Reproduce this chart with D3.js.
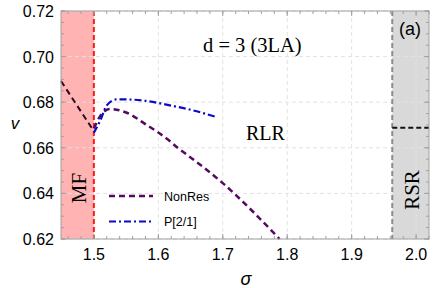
<!DOCTYPE html>
<html>
<head>
<meta charset="utf-8">
<script src="https://cdn.jsdelivr.net/npm/d3@7"></script>
<style>
  body { margin: 0; background: #fff; }
  svg { display: block; }
</style>
</head>
<body>
<div class="vis"></div>
<script>
// data
const xTicks = [1.5, 1.6, 1.7, 1.8, 1.9, 2.0];
const yTicks = [0.62, 0.64, 0.66, 0.68, 0.70, 0.72];
const mfEdge = 1.5;
const rsrEdge = 1.963;

const mfSigma = [1.449, 1.4965];
const mfV = [0.6893, 0.6688];

const rsrSigma = [1.963, 2.02];
const rsrV = [0.6688, 0.6688];

const nonResSigma = [1.5, 1.51, 1.525, 1.55, 1.582, 1.615, 1.63, 1.65, 1.7, 1.75, 1.788];
const nonResV = [0.6685, 0.674, 0.677, 0.6755, 0.670, 0.6636, 0.660, 0.6558, 0.6445, 0.6311, 0.62];

const padeSigma = [1.5, 1.51, 1.52, 1.535, 1.55, 1.58, 1.62, 1.65, 1.689];
const padeV = [0.6666, 0.672, 0.6786, 0.6812, 0.6812, 0.6806, 0.6785, 0.6767, 0.6736];

const legendNames = ['NonRes', 'P[2/1]'];

const margin = {top: 11, right: 13, bottom: 49, left: 61};
const W = 442, H = 288;
const width = W - margin.left - margin.right;
const height = H - margin.top - margin.bottom;

const svg = d3.select('.vis').append('svg')
    .attr('width', W)
    .attr('height', H);
const g = svg.append('g')
    .attr('transform', 'translate(' + margin.left + ',' + margin.top + ')');

const x = d3.scaleLinear().domain([1.449, 2.02]).range([0, width]);
const y = d3.scaleLinear().domain([0.62, 0.72]).range([height, 0]);

const sans = 'Liberation Sans, Arial, sans-serif';
const serif = 'Liberation Serif, Times New Roman, serif';

// shaded regions
g.append('rect')
    .attr('x', 0).attr('y', 0)
    .attr('width', x(mfEdge)).attr('height', height)
    .attr('fill', '#ffb3b3');
g.append('rect')
    .attr('x', x(rsrEdge)).attr('y', 0)
    .attr('width', width - x(rsrEdge)).attr('height', height)
    .attr('fill', '#d9d9d9');

// grid
g.selectAll('.gx').data(xTicks).enter().append('line')
    .attr('x1', d => x(d)).attr('x2', d => x(d))
    .attr('y1', 0).attr('y2', height)
    .attr('stroke', '#e2e2e2').attr('stroke-dasharray', '4,3');
g.selectAll('.gy').data(yTicks).enter().append('line')
    .attr('x1', 0).attr('x2', width)
    .attr('y1', d => y(d)).attr('y2', d => y(d))
    .attr('stroke', '#e2e2e2').attr('stroke-dasharray', '4,3');

// boundary lines
g.append('line')
    .attr('x1', x(mfEdge)).attr('x2', x(mfEdge))
    .attr('y1', 0).attr('y2', height)
    .attr('stroke', '#ff1a1a').attr('stroke-width', 2)
    .attr('stroke-dasharray', '5,3');
g.append('line')
    .attr('x1', x(rsrEdge)).attr('x2', x(rsrEdge))
    .attr('y1', 0).attr('y2', height)
    .attr('stroke', '#8c8c8c').attr('stroke-width', 2)
    .attr('stroke-dasharray', '5,3');

// curves
const line = d3.line().x(d => x(d[0])).y(d => y(d[1]));
const smooth = d3.line().x(d => x(d[0])).y(d => y(d[1])).curve(d3.curveMonotoneX);
const zip = (a, b) => a.map((v, i) => [v, b[i]]);

g.append('path').datum(zip(mfSigma, mfV))
    .attr('d', line).attr('fill', 'none')
    .attr('stroke', '#2a0a1e').attr('stroke-width', 2)
    .attr('stroke-dasharray', '6,4');
g.append('path').datum(zip(rsrSigma, rsrV))
    .attr('d', line).attr('fill', 'none')
    .attr('stroke', '#111').attr('stroke-width', 2)
    .attr('stroke-dasharray', '5,3');
g.append('path').datum(zip(nonResSigma, nonResV))
    .attr('d', smooth).attr('fill', 'none')
    .attr('stroke', '#550a5f').attr('stroke-width', 2.5)
    .attr('stroke-dasharray', '6,4');
g.append('path').datum(zip(padeSigma, padeV))
    .attr('d', smooth).attr('fill', 'none')
    .attr('stroke', '#0a0ac8').attr('stroke-width', 2.2)
    .attr('stroke-dasharray', '7,3,2,3');

// frame
g.append('rect')
    .attr('width', width).attr('height', height)
    .attr('fill', 'none').attr('stroke', '#a0a0a0');

// ticks (inward, on all sides)
const xMinor = d3.range(1.46, 2.021, 0.02);
const yMinor = d3.range(0.62, 0.7201, 0.005);
const tickCol = '#a0a0a0';
[0, height].forEach(yy => {
  const dir = yy === 0 ? 1 : -1;
  g.selectAll(null).data(xMinor).enter().append('line')
      .attr('x1', d => x(d)).attr('x2', d => x(d))
      .attr('y1', yy).attr('y2', yy + dir * 3)
      .attr('stroke', tickCol);
  g.selectAll(null).data(xTicks).enter().append('line')
      .attr('x1', d => x(d)).attr('x2', d => x(d))
      .attr('y1', yy).attr('y2', yy + dir * 5)
      .attr('stroke', tickCol);
});
[0, width].forEach(xx => {
  const dir = xx === 0 ? 1 : -1;
  g.selectAll(null).data(yMinor).enter().append('line')
      .attr('x1', xx).attr('x2', xx + dir * 3)
      .attr('y1', d => y(d)).attr('y2', d => y(d))
      .attr('stroke', tickCol);
  g.selectAll(null).data(yTicks).enter().append('line')
      .attr('x1', xx).attr('x2', xx + dir * 5)
      .attr('y1', d => y(d)).attr('y2', d => y(d))
      .attr('stroke', tickCol);
});

// tick labels
g.selectAll('.xl').data(xTicks).enter().append('text')
    .attr('x', d => x(d)).attr('y', height + 21)
    .attr('text-anchor', 'middle')
    .attr('font-family', sans).attr('font-size', 16)
    .text(d => d.toFixed(1));
g.selectAll('.yl').data(yTicks).enter().append('text')
    .attr('x', -7).attr('y', d => y(d) + 6)
    .attr('text-anchor', 'end')
    .attr('font-family', sans).attr('font-size', 16)
    .text(d => d.toFixed(2));

// axis titles
svg.append('text')
    .attr('x', 15).attr('y', 129)
    .attr('text-anchor', 'middle')
    .attr('font-family', sans).attr('font-style', 'italic').attr('font-size', 17)
    .text('v');
svg.append('text')
    .attr('x', 246).attr('y', 285)
    .attr('text-anchor', 'middle')
    .attr('font-family', sans).attr('font-style', 'italic').attr('font-size', 18)
    .text('σ');

// annotations
g.append('text')
    .attr('x', 142).attr('y', 41)
    .attr('font-family', serif).attr('font-size', 20.5)
    .text('d = 3 (3LA)');
g.append('text')
    .attr('x', 185).attr('y', 129)
    .attr('font-family', serif).attr('font-size', 20)
    .text('RLR');
g.append('text')
    .attr('x', 338).attr('y', 24)
    .attr('font-family', sans).attr('font-size', 18)
    .text('(a)');
g.append('text')
    .attr('transform', 'translate(' + 25 + ',' + 177 + ') rotate(-90)')
    .attr('text-anchor', 'middle')
    .attr('font-family', serif).attr('font-size', 21)
    .text('MF');
g.append('text')
    .attr('transform', 'translate(' + 358 + ',' + 179 + ') rotate(-90)')
    .attr('text-anchor', 'middle')
    .attr('font-family', serif).attr('font-size', 21)
    .text('RSR');

// legend
const legendStyles = [
  {stroke: '#550a5f', dash: '6,4', w: 2.5},
  {stroke: '#0a0ac8', dash: '7,3,2,3', w: 2.2}
];
const leg = g.selectAll('.leg').data(legendNames).enter().append('g')
    .attr('transform', (d, i) => 'translate(' + 48 + ',' + (185 + i * 25.5) + ')');
leg.append('line')
    .attr('x1', 0).attr('x2', 44)
    .attr('stroke', (d, i) => legendStyles[i].stroke)
    .attr('stroke-width', (d, i) => legendStyles[i].w)
    .attr('stroke-dasharray', (d, i) => legendStyles[i].dash);
leg.append('text')
    .attr('x', 55).attr('y', 4.5)
    .attr('font-family', sans).attr('font-size', 12.5)
    .text(d => d);
</script>
</body>
</html>
